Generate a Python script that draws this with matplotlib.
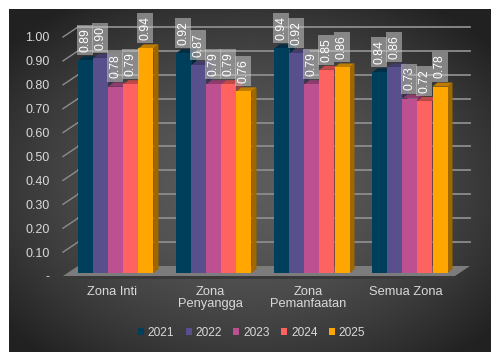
import numpy as np
import matplotlib
matplotlib.use("Agg")
import matplotlib.pyplot as plt
from matplotlib.patches import Polygon, Rectangle
from matplotlib.transforms import IdentityTransform, ScaledTranslation
from matplotlib.lines import Line2D

plt.rcParams['font.family'] = ['Liberation Sans', 'DejaVu Sans']

# ---- data ----
categories = ["Zona Inti", "Zona\nPenyangga", "Zona\nPemanfaatan", "Semua Zona"]
years = ["2021", "2022", "2023", "2024", "2025"]
v2021 = [0.89, 0.92, 0.94, 0.84]
v2022 = [0.90, 0.87, 0.92, 0.86]
v2023 = [0.78, 0.79, 0.79, 0.73]
v2024 = [0.79, 0.79, 0.85, 0.72]
v2025 = [0.94, 0.76, 0.86, 0.78]
series = [v2021, v2022, v2023, v2024, v2025]
colors = ["#003f5c", "#58508d", "#bc5090", "#ff6361", "#ffa600"]
yticks = [0.0, 0.1, 0.2, 0.3, 0.4, 0.5, 0.6, 0.7, 0.8, 0.9, 1.0]
ytick_labels = ["-", "0.10", "0.20", "0.30", "0.40", "0.50", "0.60", "0.70", "0.80", "0.90", "1.00"]

W, H = 503, 358
DPI = 100
fig = plt.figure(figsize=(W / DPI, H / DPI), dpi=DPI)
fig.patch.set_facecolor("white")

# background panel with radial gradient
bg = fig.add_axes([9 / W, 1 - 352 / H, 482 / W, 343 / H])
gy, gx = np.mgrid[0:1:200j, 0:1:280j]
r = np.sqrt(((gx - 0.5) / 0.62) ** 2 + ((gy - 0.52) / 0.62) ** 2)
g = np.clip(0.36 - 0.21 * r ** 1.7, 0.13, 0.4)
bg.imshow(np.dstack([g, g, g]), aspect="auto", extent=[0, 1, 0, 1], interpolation="bicubic")
bg.set_axis_off()
bg.set_zorder(-10)

# main axes = front plane
ax = fig.add_axes([63 / W, 1 - 276 / H, 392 / W, 239 / H])
ax.set_xlim(-0.5, 3.5)
ax.set_ylim(0, 1.0)
ax.patch.set_alpha(0)
for s in ax.spines.values():
    s.set_visible(False)

ax.set_yticks(yticks)
ax.set_yticklabels(ytick_labels)
ax.tick_params(axis="y", length=0, pad=9.5, labelsize=9, labelcolor="#d9d9d9")
ax.set_xticks(range(len(categories)))
ax.set_xticklabels(categories, linespacing=1.05)
ax.tick_params(axis="x", length=0, pad=7, labelsize=9.3, labelcolor="#d9d9d9")

fig.canvas.draw()
T = ax.transData
ID = IdentityTransform()

def disp(x, y, dx=0.0, dy=0.0):
    p = T.transform((x, y))
    return (p[0] + dx, p[1] + dy)

BACK = (15, 10)

# floor
fl = [disp(-0.5, 0), disp(3.5, 0), disp(3.5, 0, *BACK), disp(-0.5, 0, *BACK)]
ax.add_patch(Polygon(fl, closed=True, transform=ID, facecolor="#7c7c7c", edgecolor="none",
                     zorder=1, clip_on=False))
f0 = disp(-0.5, 0)
f1 = disp(3.5, 0)
ax.add_patch(Polygon([f0, f1, (f1[0], f1[1] - 3), (f0[0], f0[1] - 3)], closed=True, transform=ID,
                     facecolor="#3a3a3a", edgecolor="none", zorder=1, clip_on=False))

# back gridlines and diagonal ticks
for v in yticks[1:]:
    a = disp(-0.5, v, *BACK)
    b = disp(3.5, v, *BACK)
    ax.add_line(Line2D([a[0], b[0]], [a[1], b[1]], transform=ID, color="#8c8c8c", lw=1.3,
                       zorder=1, clip_on=False))
    c = disp(-0.5, v)
    ax.add_line(Line2D([c[0], a[0]], [c[1], a[1]], transform=ID, color="#8c8c8c", lw=1.0,
                       zorder=1, clip_on=False))

def darker(c, f):
    rgb = np.array(matplotlib.colors.to_rgb(c))
    return tuple(rgb * f)

bw = 15 / 98.0
BOFF = (4, 3)
DEPTH = (5, 4)
z = 3
off = ScaledTranslation(BOFF[0] / DPI, BOFF[1] / DPI, fig.dpi_scale_trans)
for j in range(len(categories)):
    for i, vals in enumerate(series):
        v = vals[j]
        xl = j + (i - 2.5) * bw
        xr = xl + bw
        p_br = disp(xr, 0, *BOFF)
        p_tl = disp(xl, v, *BOFF)
        p_tr = disp(xr, v, *BOFF)
        dx, dy = DEPTH
        side = [p_br, p_tr, (p_tr[0] + dx, p_tr[1] + dy), (p_br[0] + dx, p_br[1] + dy)]
        top = [p_tl, p_tr, (p_tr[0] + dx, p_tr[1] + dy), (p_tl[0] + dx, p_tl[1] + dy)]
        ax.add_patch(Polygon(side, closed=True, transform=ID, facecolor=darker(colors[i], 0.62),
                             edgecolor="none", zorder=z, clip_on=False))
        ax.add_patch(Polygon(top, closed=True, transform=ID, facecolor=darker(colors[i], 0.75),
                             edgecolor="none", zorder=z + 0.1, clip_on=False))
        ax.bar(xl, v, width=bw, align="edge", color=colors[i], transform=T + off,
               zorder=z + 0.2, linewidth=0, clip_on=False)
        z += 0.3

# data labels
for j in range(len(categories)):
    for i, vals in enumerate(series):
        v = vals[j]
        xl = j + (i - 2.5) * bw
        p = disp(xl, v, *BOFF)
        bx, by = p[0] - 1, p[1] + 5
        ax.add_patch(Rectangle((bx, by), 16, 30, transform=ID, facecolor="#c8c8c8",
                               alpha=0.55, edgecolor="none", zorder=20, clip_on=False))
        ax.text(bx + 8.3, by + 15, f"{v:.2f}", transform=ID, rotation=90, ha="center", va="center",
                color="white", fontsize=8.7, zorder=21, clip_on=False)

# legend
handles = [Rectangle((0, 0), 1, 1, facecolor=c, edgecolor="none") for c in colors]
fig.legend(handles, years, loc="center", bbox_to_anchor=(0.5, 1 - 333 / H), ncol=5, frameon=False,
           fontsize=8.6, labelcolor="#d9d9d9", handlelength=0.5, handleheight=0.5,
           handletextpad=0.33, columnspacing=0.95, borderaxespad=0)

fig.savefig("out.png", dpi=DPI, facecolor="white")
